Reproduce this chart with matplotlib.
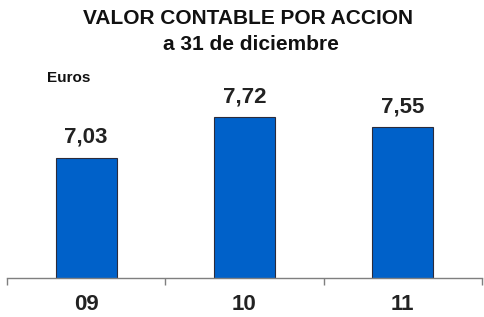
import matplotlib
matplotlib.use('Agg')
import matplotlib.pyplot as plt

years = ['09', '10', '11']
values = [7.03, 7.72, 7.55]
value_labels = ['7,03', '7,72', '7,55']

plt.rcParams['font.family'] = ['Liberation Sans', 'DejaVu Sans']

fig = plt.figure(figsize=(4.84, 3.17), dpi=100)
ax = fig.add_axes([7 / 484, 0.124, 475 / 484, 0.744])

x = list(range(len(years)))
ax.bar(x, values, width=0.385, bottom=0, color='#0061C9', edgecolor='#2b2b3b', linewidth=0.8, zorder=2)

for i in x:
    ax.annotate(value_labels[i], (i, values[i]), xytext=(0, 10.8), textcoords='offset points',
                ha='center', va='baseline', fontsize=16, fontweight='bold', color='#222222')

ax.set_xlim(-0.5, 2.5)
ax.set_ylim(5, 9)

for side in ['top', 'right', 'left']:
    ax.spines[side].set_visible(False)
ax.spines['bottom'].set_color('#7f7f7f')
ax.spines['bottom'].set_linewidth(1.0)

ax.set_yticks([])
ax.set_xticks(x)
ax.set_xticklabels(years, fontsize=16, fontweight='bold', color='#222222')
ax.tick_params(axis='x', which='major', length=0, pad=12)
ax.set_xticks([-0.5, 0.5, 1.5, 2.5], minor=True)
ax.tick_params(axis='x', which='minor', length=5, width=1.0, color='#7f7f7f', direction='out')

fig.text(248 / 484, 1 - 19 / 317, 'VALOR CONTABLE POR ACCION', ha='center', va='center',
         fontsize=15, fontweight='bold', color='#111111')
fig.text(251 / 484, 1 - 45 / 317, 'a 31 de diciembre', ha='center', va='center',
         fontsize=15, fontweight='bold', color='#111111')
fig.text(47 / 484, 1 - 78 / 317, 'Euros', ha='left', va='center',
         fontsize=11, fontweight='bold', color='#111111')

plt.savefig('out.png', dpi=100)
